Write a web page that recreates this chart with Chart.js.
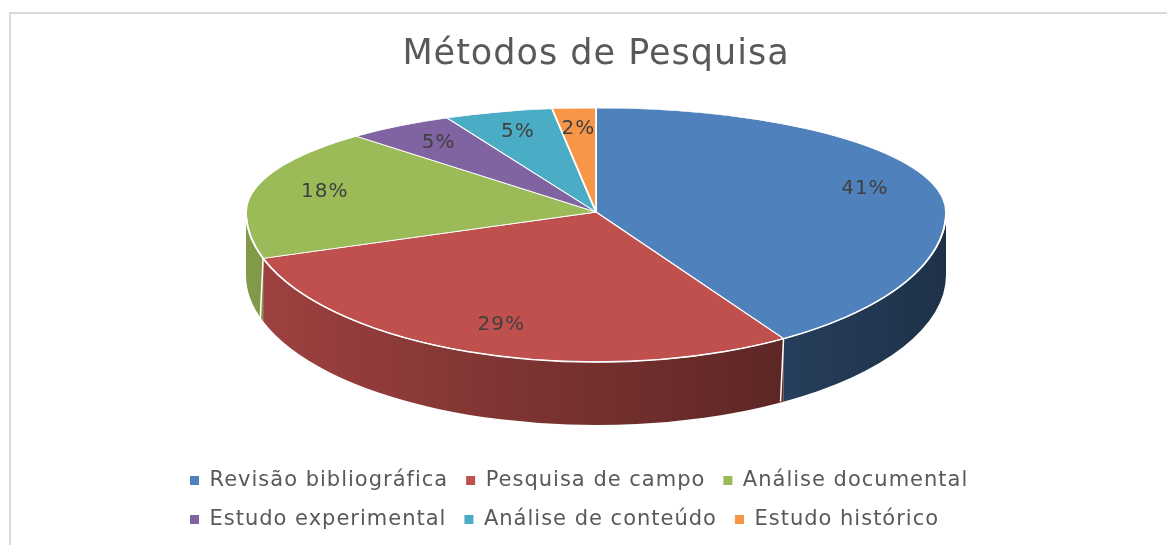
<!DOCTYPE html>
<html>
<head>
<meta charset="utf-8">
<script src="https://cdn.jsdelivr.net/npm/chart.js@4.4.1/dist/chart.umd.min.js"></script>
<style>
  html, body { margin: 0; padding: 0; background: #fff; overflow: hidden; }
  #wrap  { position: relative; width: 1167px; height: 545px; }
  #frame { position: absolute; left: 9px; top: 12px; width: 1200px; height: 600px; border: 2px solid #d9d9d9; }
  canvas { position: absolute; left: 0; top: 0; }
</style>
</head>
<body>
<div id="wrap">
  <div id="frame"></div>
  <canvas id="metodos-chart" width="1167" height="545"></canvas>
</div>
<script>
// ── Data ──────────────────────────────────────────────────
const metodos = [
  'Revisão bibliográfica',
  'Pesquisa de campo',
  'Análise documental',
  'Estudo experimental',
  'Análise de conteúdo',
  'Estudo histórico'
];
const percentuais = [41, 29, 18, 5, 5, 2];
const cores       = ['#4F81BD', '#C0504D', '#9BBB59', '#8064A2', '#4BACC6', '#F79646'];

// ── 3D look (sizes of the tilted pie) ─────────────────────
const RX     = 350;   // horizontal radius
const RY_TOP = 104;   // back half (far side, foreshortened)
const RY_BOT = 150;   // front half
const DEPTH  = 63;    // thickness of the side wall
const FONT   = "'DejaVu Sans', sans-serif";
const LETTER = '1px'; // the original text is drawn wide

function shade(hex, f) {
  const n = parseInt(hex.slice(1), 16);
  const r = Math.round(((n >> 16) & 255) * f);
  const g = Math.round(((n >> 8) & 255) * f);
  const b = Math.round((n & 255) * f);
  return `rgb(${r},${g},${b})`;
}

function pieGeom(chart) {
  const arc = chart.getDatasetMeta(0).data[0];
  return {
    ax: arc.x, ay: arc.y, r: arc.outerRadius,
    cx: arc.x,
    cy: Math.round(arc.y - (RY_BOT + DEPTH - RY_TOP) / 2)
  };
}

function applyHalf(ctx, chart, g, upper) {
  ctx.beginPath();
  if (upper) ctx.rect(0, 0, chart.width, g.cy + 1);
  else       ctx.rect(0, g.cy, chart.width, chart.height - g.cy);
  ctx.clip();
  ctx.translate(g.cx, g.cy);
  ctx.scale(RX / g.r, (upper ? RY_TOP : RY_BOT) / g.r);
  ctx.translate(-g.ax, -g.ay);
}

const pie3dPlugin = {
  id: 'pie3d',
  beforeLayout(chart) { chart.ctx.letterSpacing = LETTER; },
  beforeDraw(chart)   { chart.ctx.letterSpacing = LETTER; },
  beforeDatasetsDraw(chart) {
    const ctx  = chart.ctx;
    const meta = chart.getDatasetMeta(0);
    const g    = pieGeom(chart);

    // side walls, front half only (canvas angles 0..PI)
    meta.data.forEach((arc, i) => {
      const a = Math.max(arc.startAngle, 0);
      const b = Math.min(arc.endAngle, Math.PI);
      if (b <= a) return;
      const grad = ctx.createLinearGradient(g.cx - RX, 0, g.cx + RX, 0);
      grad.addColorStop(0, shade(cores[i], 0.83));
      grad.addColorStop(1, shade(cores[i], 0.38));
      ctx.beginPath();
      ctx.ellipse(g.cx, g.cy, RX, RY_BOT, 0, a, b);
      ctx.ellipse(g.cx, g.cy + DEPTH, RX, RY_BOT, 0, b, a, true);
      ctx.closePath();
      ctx.fillStyle = grad;
      ctx.fill();
    });

    // white seams on the wall
    ctx.save();
    ctx.strokeStyle = '#ffffff';
    ctx.lineWidth = 1.5;
    meta.data.forEach(arc => {
      const t = arc.endAngle;
      if (t <= 0 || t >= Math.PI) return;
      const x = g.cx + RX * Math.cos(t);
      const y = g.cy + RY_BOT * Math.sin(t);
      ctx.beginPath();
      ctx.moveTo(x, y);
      ctx.lineTo(x - 3, y + DEPTH);
      ctx.stroke();
    });
    ctx.restore();

    // top surface, back half (the library draws it)
    ctx.save();
    applyHalf(ctx, chart, g, true);
  },
  afterDatasetsDraw(chart) {
    const ctx  = chart.ctx;
    const meta = chart.getDatasetMeta(0);
    const g    = pieGeom(chart);
    ctx.restore();

    // top surface, front half
    ctx.save();
    applyHalf(ctx, chart, g, false);
    meta.controller.draw();
    ctx.restore();

    // rim between top and wall
    ctx.save();
    ctx.strokeStyle = '#ffffff';
    ctx.lineWidth = 1.5;
    ctx.beginPath();
    ctx.ellipse(g.cx, g.cy, RX, RY_BOT, 0, 0, Math.PI);
    ctx.stroke();
    ctx.restore();

    // percentage labels
    ctx.save();
    ctx.font = `20px ${FONT}`;
    ctx.fillStyle = '#404040';
    ctx.textAlign = 'center';
    ctx.textBaseline = 'middle';
    meta.data.forEach((arc, i) => {
      const m  = (arc.startAngle + arc.endAngle) / 2;
      const ry = Math.sin(m) < 0 ? RY_TOP : RY_BOT;
      const x  = g.cx + RX * 0.8 * Math.cos(m);
      const y  = g.cy + ry * 0.8 * Math.sin(m);
      ctx.fillText(percentuais[i] + '%', x, y);
    });
    ctx.restore();
  }
};

function initChart() {
  const ctx = document.getElementById('metodos-chart').getContext('2d');
  new Chart(ctx, {
    type: 'pie',
    data: {
      labels: metodos,
      datasets: [{
        data: percentuais,
        backgroundColor: cores,
        borderColor: '#ffffff',
        borderWidth: 1,
        clip: false
      }]
    },
    options: {
      responsive: false,
      animation: false,
      events: [],
      layout: { padding: { left: 172, right: 147, top: 12, bottom: 5 } },
      plugins: {
        title: {
          display: true,
          text: 'Métodos de Pesquisa',
          color: '#595959',
          font: { family: FONT, size: 35, weight: 'normal' },
          padding: { top: 22, bottom: 4 }
        },
        legend: {
          position: 'bottom',
          align: 'start',
          labels: {
            boxWidth: 9,
            boxHeight: 9,
            padding: 18,
            color: '#595959',
            font: { family: FONT, size: 21 },
            generateLabels: () => metodos.map((text, i) => ({
              text,
              fillStyle: cores[i],
              strokeStyle: cores[i],
              lineWidth: 0,
              fontColor: '#595959',
              hidden: false,
              index: i
            }))
          }
        },
        tooltip: { enabled: false }
      }
    },
    plugins: [pie3dPlugin]
  });
}

document.fonts.ready.then(initChart);
</script>
</body>
</html>
